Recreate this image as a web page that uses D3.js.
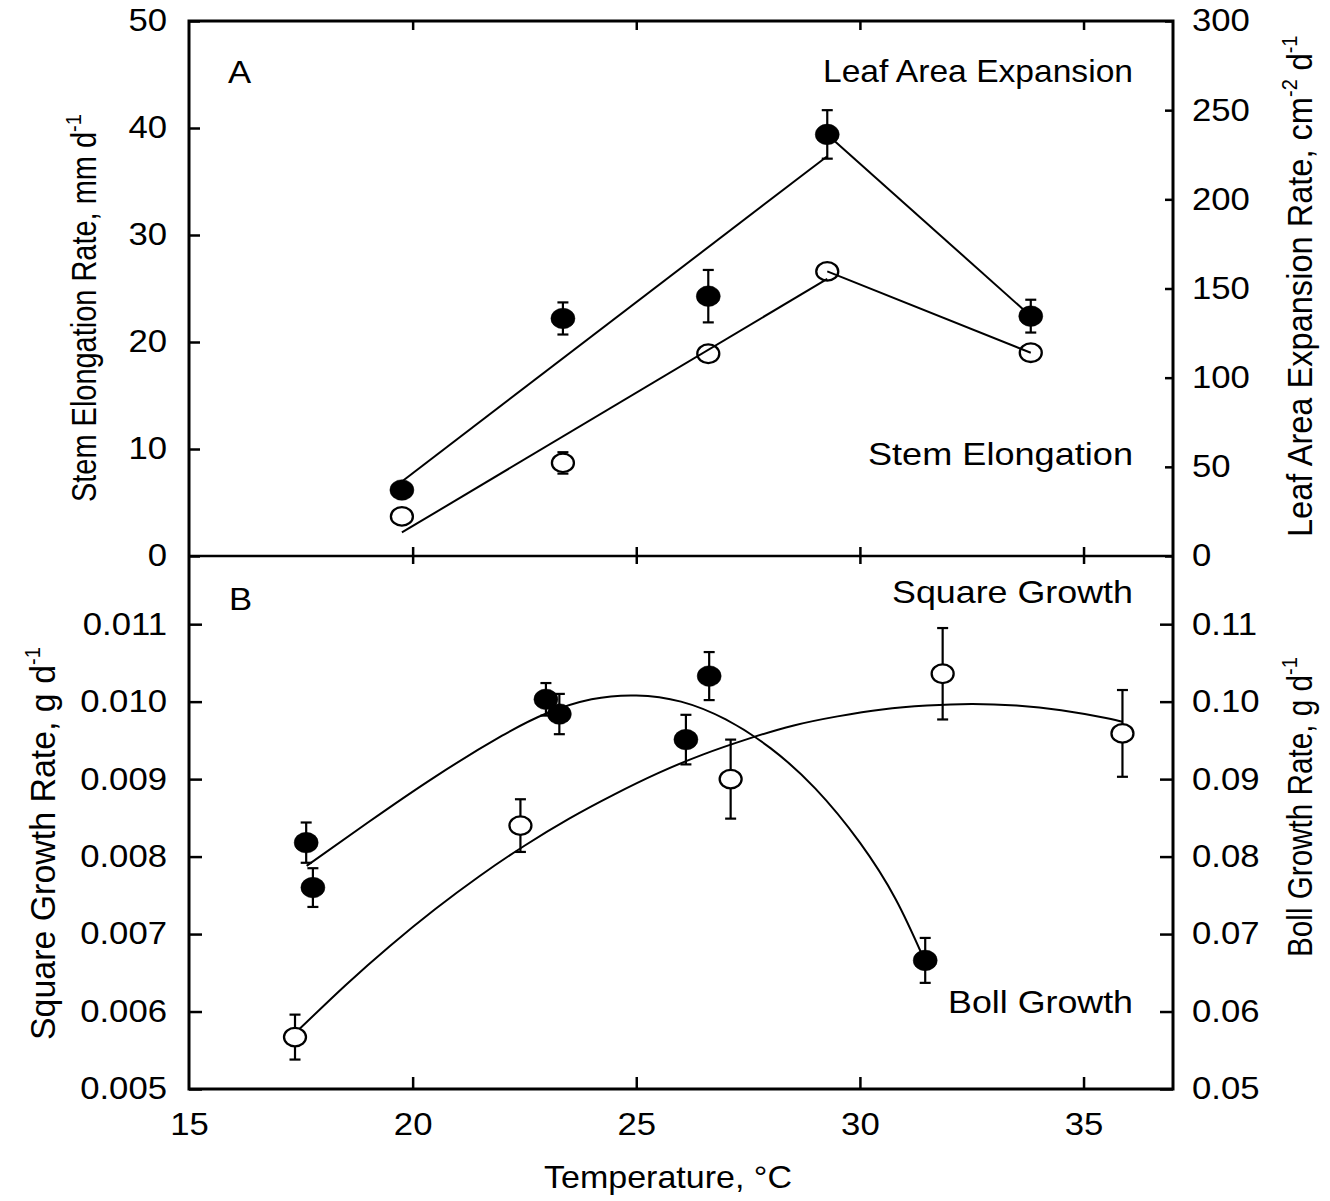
<!DOCTYPE html>
<html><head><meta charset="utf-8">
<script src="https://cdn.jsdelivr.net/npm/d3@7"></script>
<style>
body{margin:0;background:#fff}
svg{display:block}
text{font-family:"Liberation Sans",Arial,Helvetica,sans-serif;fill:#000;white-space:pre}
</style>
</head><body>
<svg id="chart" width="1330" height="1201"></svg>
<script>
// ---------------- data ----------------
const tempTicks   = [20, 25, 30, 35];
const stemTicks   = [0, 10, 20, 30, 40, 50];
const leafTicks   = [0, 50, 100, 150, 200, 250, 300];
const squareTicks = [0.005, 0.006, 0.007, 0.008, 0.009, 0.010, 0.011];
const bollTicks   = [0.05, 0.06, 0.07, 0.08, 0.09, 0.10, 0.11];

// Panel A: stem elongation (open, left axis) and leaf area expansion (filled, right axis)
const stemTemp = [19.76, 23.36, 26.61, 29.27, 33.82];
const stemRate = [3.7, 8.7, 18.9, 26.6, 19.0];
const stemErr  = [0, 1.0, 0, 0, 0];
const leafTemp = [19.76, 23.36, 26.61, 29.27, 33.82];
const leafRate = [37.0, 133.2, 145.7, 236.4, 134.5];
const leafErr  = [0, 9.0, 14.7, 13.6, 9.2];
// fitted segments
const stemFitUpTemp = [19.76, 29.27];
const stemFitUp     = [2.2, 25.9];
const stemFitDnTemp = [29.27, 33.82];
const stemFitDn     = [26.6, 19.0];
const leafFitUpTemp = [19.76, 29.27];
const leafFitUp     = [41.8, 224.2];
const leafFitDnTemp = [29.27, 33.82];
const leafFitDn     = [236.4, 134.5];

// Panel B: square growth (open, left axis) and boll growth (filled, right axis)
const squareTemp = [17.37, 22.41, 27.11, 31.85, 35.87];
const squareRate = [0.00567, 0.00840, 0.00900, 0.01036, 0.00959];
const squareErr  = [0.00029, 0.00034, 0.00051, 0.00059, 0.00056];
const bollTemp = [17.62, 17.77, 22.98, 23.28, 26.11, 26.63, 31.46];
const bollRate = [0.0818, 0.0760, 0.1003, 0.0984, 0.0951, 0.1033, 0.0666];
const bollErr  = [0.0026, 0.0025, 0.0021, 0.0026, 0.0032, 0.0031, 0.0029];
// fitted curves
const squareFitTemp = [17.48, 18.5, 19.5, 20.5, 21.5, 22.5, 23.5, 24.5, 25.5, 26.5, 27.5, 28.5, 29.5, 30.5, 31.5, 32.5, 33.5, 34.5, 35.5, 35.87];
const squareFit     = [0.00578, 0.00634, 0.00685, 0.00732, 0.00775, 0.00814, 0.00849, 0.00880, 0.00908, 0.00932, 0.00952, 0.00969, 0.00981, 0.00990, 0.00995, 0.00997, 0.00995, 0.00989, 0.00979, 0.00974];
const bollFitTemp = [17.63, 19.0, 20.5, 22.0, 23.0, 24.0, 25.0, 26.0, 27.0, 28.0, 29.0, 30.0, 30.8, 31.4];
const bollFit     = [0.0788, 0.0844, 0.0903, 0.0956, 0.0985, 0.1003, 0.1008, 0.1000, 0.0977, 0.0940, 0.0888, 0.0818, 0.0745, 0.0672];

// ---------------- layout ----------------
const S = 1.12;          // horizontal glyph stretch of the original
const FS = 31;           // font size
const L = 189, R = 1173;
const topY0 = 21, midY = 556, botY = 1089;

const svg = d3.select("#chart");
const x = d3.scaleLinear().domain([15, 37]).range([L, R]);
const yStem = d3.scaleLinear().domain([0, 50]).range([midY, topY0]);
const yLeaf = d3.scaleLinear().domain([0, 300]).range([midY, topY0]);
const ySq = d3.scaleLinear().domain([0.005, 0.01188]).range([botY, midY]);
const yBoll = d3.scaleLinear().domain([0.05, 0.1188]).range([botY, midY]);

function stretchTicks(g) {
  g.selectAll(".tick text").each(function () {
    const t = d3.select(this);
    const xx = +t.attr("x") || 0;
    t.attr("x", xx / S).attr("transform", `scale(${S},1)`);
  });
}
function styleAxis(g, w) {
  g.select(".domain").remove();
  g.selectAll(".tick line").attr("stroke", "#000").attr("stroke-width", w);
  g.selectAll(".tick text").attr("font-size", FS).attr("font-family", '"Liberation Sans",Arial,sans-serif').attr("fill", "#000");
  stretchTicks(g);
}

// ---- axes, panel A ----
svg.append("g").attr("transform", `translate(${L},0)`)
  .call(d3.axisLeft(yStem).tickValues(stemTicks).tickSize(-11).tickPadding(22).tickFormat(d3.format("d")))
  .call(g => styleAxis(g, 2.5));
svg.append("g").attr("transform", `translate(${R},0)`)
  .call(d3.axisRight(yLeaf).tickValues(leafTicks).tickSize(-8).tickPadding(19).tickFormat(d3.format("d")))
  .call(g => styleAxis(g, 2.5));
svg.append("g").attr("transform", `translate(0,${topY0})`)
  .call(d3.axisTop(x).tickValues(tempTicks).tickSize(-9).tickFormat(""))
  .call(g => styleAxis(g, 2.5));
svg.append("g").attr("transform", `translate(0,${midY})`)
  .call(d3.axisBottom(x).tickValues(tempTicks).tickSize(-9).tickFormat(""))
  .call(g => styleAxis(g, 2.5));

// ---- axes, panel B ----
svg.append("g").attr("transform", `translate(${L},0)`)
  .call(d3.axisLeft(ySq).tickValues(squareTicks).tickSize(-13).tickPadding(22).tickFormat(d3.format(".3f")))
  .call(g => styleAxis(g, 2.5));
svg.append("g").attr("transform", `translate(${R},0)`)
  .call(d3.axisRight(yBoll).tickValues(bollTicks).tickSize(-13).tickPadding(19).tickFormat(d3.format(".2f")))
  .call(g => styleAxis(g, 2.5));
svg.append("g").attr("transform", `translate(0,${midY})`)
  .call(d3.axisTop(x).tickValues(tempTicks).tickSize(-8).tickFormat(""))
  .call(g => styleAxis(g, 2.5));
svg.append("g").attr("transform", `translate(0,${botY})`)
  .call(d3.axisBottom(x).tickValues(tempTicks.concat([15])).tickSize(-12).tickPadding(24).tickFormat(d3.format("d")))
  .call(g => styleAxis(g, 2.5))
  .call(g => g.selectAll(".tick").filter(d => d === 15).select("line").remove());

// frame lines
const frame = svg.append("g").attr("stroke", "#000").attr("stroke-width", 3).attr("fill", "none");
frame.append("rect").attr("x", L).attr("y", topY0).attr("width", R - L).attr("height", botY - topY0);
frame.append("line").attr("x1", L).attr("x2", R).attr("y1", midY).attr("y2", midY).attr("stroke-width", 2.5);

// ---------------- marks ----------------
const RX = 12, RY = 10.3, CAP = 5.5;
function errorBars(g, xs, ys, es, sx, sy) {
  xs.forEach((t, i) => {
    if (!es[i]) return;
    const cx = sx(t), y1 = sy(ys[i] - es[i]), y2 = sy(ys[i] + es[i]);
    g.append("line").attr("x1", cx).attr("x2", cx).attr("y1", y1).attr("y2", y2);
    g.append("line").attr("x1", cx - CAP).attr("x2", cx + CAP).attr("y1", y1).attr("y2", y1);
    g.append("line").attr("x1", cx - CAP).attr("x2", cx + CAP).attr("y1", y2).attr("y2", y2);
  });
}
function markers(g, xs, ys, sx, sy, filled) {
  g.selectAll(null).data(xs.map((t, i) => [t, ys[i]])).join("ellipse")
    .attr("cx", d => sx(d[0])).attr("cy", d => sy(d[1]))
    .attr("rx", filled ? RX : RX - 1).attr("ry", filled ? RY : RY - 1)
    .attr("fill", filled ? "#000" : "#fff").attr("stroke", "#000").attr("stroke-width", filled ? 0.5 : 2.3);
}
function fitLine(g, xs, ys, sx, sy, smooth) {
  const line = d3.line().x(d => sx(d[0])).y(d => sy(d[1]));
  if (smooth) line.curve(d3.curveNatural);
  g.append("path").datum(xs.map((t, i) => [t, ys[i]])).attr("d", line)
    .attr("fill", "none").attr("stroke", "#000").attr("stroke-width", 2);
}

const eb = svg.append("g").attr("stroke", "#000").attr("stroke-width", 2.2);
errorBars(eb, stemTemp, stemRate, stemErr, x, yStem);
errorBars(eb, leafTemp, leafRate, leafErr, x, yLeaf);
errorBars(eb, squareTemp, squareRate, squareErr, x, ySq);
errorBars(eb, bollTemp, bollRate, bollErr, x, yBoll);

const mk = svg.append("g");
markers(mk, stemTemp, stemRate, x, yStem, false);
markers(mk, leafTemp, leafRate, x, yLeaf, true);
markers(mk, squareTemp, squareRate, x, ySq, false);
markers(mk, bollTemp, bollRate, x, yBoll, true);

const fl = svg.append("g");
fitLine(fl, stemFitUpTemp, stemFitUp, x, yStem, false);
fitLine(fl, stemFitDnTemp, stemFitDn, x, yStem, false);
fitLine(fl, leafFitUpTemp, leafFitUp, x, yLeaf, false);
fitLine(fl, leafFitDnTemp, leafFitDn, x, yLeaf, false);
fitLine(fl, squareFitTemp, squareFit, x, ySq, true);
fitLine(fl, bollFitTemp, bollFit, x, yBoll, true);

// ---------------- text ----------------
function hText(txt, px, py, anchor, len) {
  const t = svg.append("text").attr("transform", `translate(${px},${py}) scale(${S},1)`)
    .attr("text-anchor", anchor).attr("font-size", FS).text(txt);
  if (len) t.attr("textLength", len / S).attr("lengthAdjust", "spacingAndGlyphs");
}
hText("A", 228, 83, "start");
hText("B", 229, 610, "start");
hText("Leaf Area Expansion", 1133, 82, "end", 310);
hText("Stem Elongation", 1133, 465, "end", 265);
hText("Square Growth", 1133, 603, "end", 241);
hText("Boll Growth", 1133, 1013, "end", 185);
hText("Temperature, °C", 668, 1188, "middle", 248);

// vertical titles: pieces placed one after another, reading upward
function vTitle(px, py, pieces) {
  let cur = py;
  pieces.forEach(p => {
    const t = svg.append("text")
      .attr("transform", `translate(${px},${cur}) rotate(-90) scale(1,${S})`)
      .attr("y", p.sup ? -13 : 0)
      .attr("font-size", p.sup ? 20 : FS).text(p.t);
    if (p.len) t.attr("textLength", p.len).attr("lengthAdjust", "spacingAndGlyphs");
    const w = p.len || t.node().getComputedTextLength();
    cur -= w;
  });
}
vTitle(96, 502, [{t: "Stem Elongation Rate, mm d", len: 370}, {t: "-1", sup: true}]);
vTitle(1312, 537, [{t: "Leaf Area Expansion Rate, cm", len: 440}, {t: "-2", sup: true}, {t: "\u00a0d"}, {t: "-1", sup: true}]);
vTitle(55, 1040, [{t: "Square Growth Rate, g d", len: 375}, {t: "-1", sup: true}]);
vTitle(1312, 957, [{t: "Boll Growth Rate, g d", len: 282}, {t: "-1", sup: true}]);
</script>
</body></html>
